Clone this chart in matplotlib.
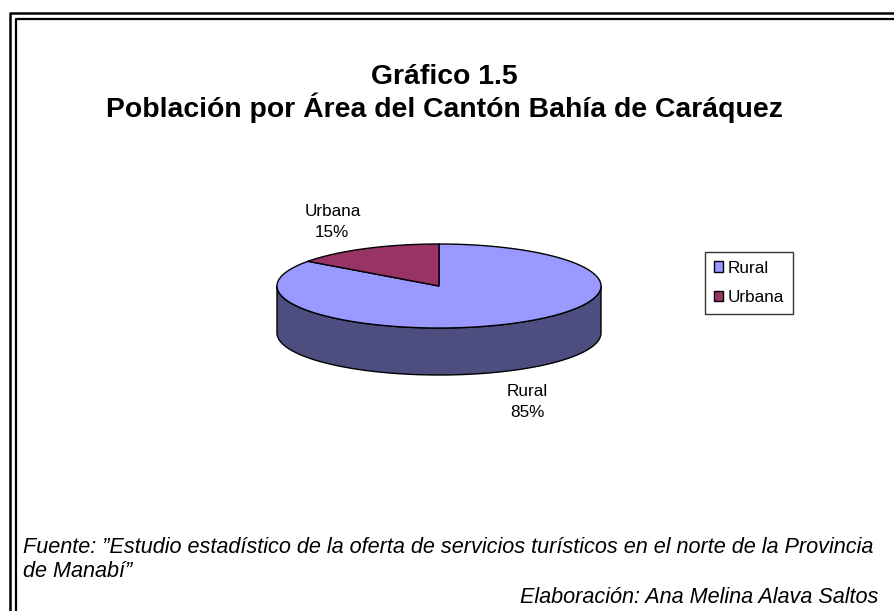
import numpy as np
import matplotlib
matplotlib.use('Agg')
import matplotlib.pyplot as plt
from matplotlib.patches import Patch

plt.rcParams['font.family'] = ['Liberation Sans', 'DejaVu Sans']

# Datos
categorias = ['Rural', 'Urbana']
valores = [85, 15]
colores_top = ['#9999FF', '#993366']
colores_lado = ['#4D4D80', '#4D1A33']

titulo1 = 'Gráfico 1.5'
titulo2 = 'Población por Área del Cantón Bahía de Caráquez'
fuente1 = 'Fuente: ”Estudio estadístico de la oferta de servicios turísticos en el norte de la Provincia'
fuente2 = 'de Manabí”'
elaboracion = 'Elaboración: Ana Melina Alava Saltos'

W, H = 894, 611
fig = plt.figure(figsize=(W / 100, H / 100), dpi=100)
ax = fig.add_axes([0, 0, 1, 1])
ax.set_xlim(0, W)
ax.set_ylim(H, 0)
ax.axis('off')

# marco doble (se corta a la derecha y abajo)
ax.plot([10, 10, W + 5], [H + 5, 13, 13], color='black', lw=1.8, solid_capstyle='butt')
ax.plot([15.5, 15.5, W + 5], [H + 5, 18.5, 18.5], color='black', lw=1.6, solid_capstyle='butt')

# titulos
ax.text(444, 84, titulo1, ha='center', va='baseline', fontsize=20.4, fontweight='bold')
ax.text(444, 117, titulo2, ha='center', va='baseline', fontsize=20.4, fontweight='bold')

# pastel 3D (elipse)
cx, cy = 439, 286
rx, ry = 162, 42
depth = 47

def pt(theta_deg, dy=0):
    t = np.radians(theta_deg)
    return cx + rx * np.cos(t), cy - ry * np.sin(t) + dy

total = sum(valores)
# Excel: primera porcion desde las 12 en sentido horario
angulos = []
inicio = 90.0
for v in valores:
    fin = inicio - 360.0 * v / total
    angulos.append((inicio, fin))
    inicio = fin

# pared lateral (frente: 180..360)
for (a0, a1), cl in zip(angulos, colores_lado):
    lo, hi = min(a0, a1), max(a0, a1)
    segs = []
    for k in range(-1, 2):
        s = max(lo + 360 * k, 180)
        e = min(hi + 360 * k, 360)
        if e > s:
            segs.append((s, e))
    for s, e in segs:
        th = np.linspace(s, e, 120)
        x1, y1 = pt(th)
        x2, y2 = pt(th[::-1], depth)
        ax.fill(np.concatenate([x1, x2]), np.concatenate([y1, y2]),
                facecolor=cl, edgecolor='black', lw=1.0, zorder=2)

# tapa superior
for (a0, a1), cl in zip(angulos, colores_top):
    th = np.linspace(a0, a1, 200)
    x, y = pt(th)
    ax.fill(np.concatenate([[cx], x]), np.concatenate([[cy], y]),
            facecolor=cl, edgecolor='black', lw=1.0, zorder=3)

# etiquetas
etiquetas_pos = [(1.20, 1.85, depth), (1.45, 1.70, 0)]
for (a0, a1), cat, v, (fx, fy, dy) in zip(angulos, categorias, valores, etiquetas_pos):
    m = np.radians((a0 + a1) / 2)
    x = cx + rx * fx * np.cos(m)
    y = cy - ry * fy * np.sin(m) + dy
    ax.text(x, y, f'{cat}\n{v / total * 100:.0f}%', ha='center', va='center',
            fontsize=12.3, linespacing=1.5, zorder=4)

# leyenda
handles = [Patch(facecolor=c, edgecolor='black', lw=1.0) for c in colores_top]
leg = ax.legend(handles, categorias, loc='upper left', bbox_to_anchor=(705, 252),
                bbox_transform=ax.transData, fontsize=12.3, frameon=True, fancybox=False,
                handlelength=0.55, handleheight=0.55, handletextpad=0.3,
                labelspacing=0.85, borderpad=0.5, borderaxespad=0)
leg.get_frame().set_edgecolor('black')
leg.get_frame().set_linewidth(1.0)

# fuente
ax.text(23, 553, fuente1, ha='left', va='baseline', fontsize=15.6, style='italic')
ax.text(23, 577, fuente2, ha='left', va='baseline', fontsize=15.6, style='italic')
ax.text(878, 603, elaboracion, ha='right', va='baseline', fontsize=15.6, style='italic')

plt.savefig('out.png', dpi=100)
